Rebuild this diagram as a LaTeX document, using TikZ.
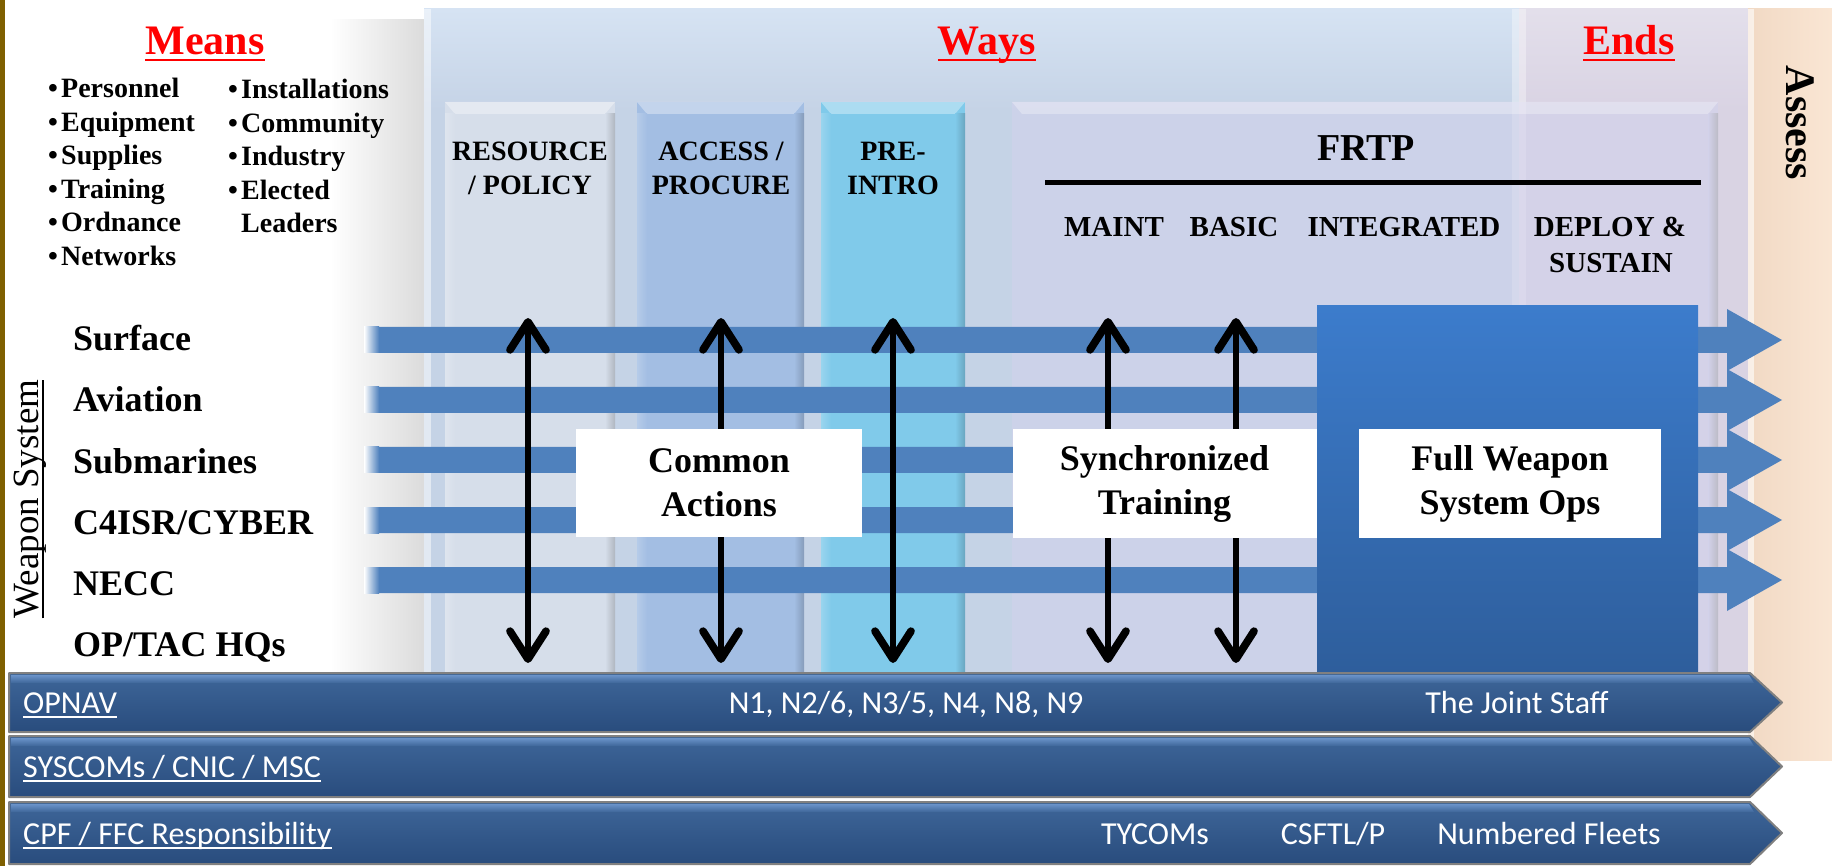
\documentclass[tikz,border=0pt]{standalone}
\usepackage{fontspec}
\setmainfont{Liberation Serif}
\newfontfamily\calib{Carlito}
\usetikzlibrary{arrows.meta}
\definecolor{waysbg}{HTML}{C5D3E6}
\definecolor{waystop}{HTML}{D6E3F3}
\definecolor{endsbg}{HTML}{D9D3E3}
\definecolor{endstop}{HTML}{E3DFEB}
\definecolor{peach}{HTML}{FAE6D4}
\definecolor{peachdark}{HTML}{F1D9C4}
\definecolor{resbg}{HTML}{D6DEEA}
\definecolor{accbg}{HTML}{A3BEE3}
\definecolor{prebg}{HTML}{80CAEA}
\definecolor{frtpbg}{HTML}{D2D2EC}
\definecolor{arrowblue}{HTML}{4F81BD}
\definecolor{opstop}{HTML}{3C7CCC}
\definecolor{opsbot}{HTML}{2E5E9C}
\definecolor{bartop}{HTML}{3E6699}
\definecolor{barbot}{HTML}{294C7D}
\definecolor{barhi}{HTML}{6A93C9}
\definecolor{goldline}{HTML}{7F6000}
\definecolor{hdred}{HTML}{FF0000}
\newcommand\fsz[1]{\fontsize{#1}{#1}\selectfont}
\newcommand\colbox[3]{%
  \fill[#3] (#1,102) rectangle (#2,672);
  \fill[white,opacity=.35] (#1,102) -- (#2,102) -- (#2-10,114) -- (#1+10,114) -- cycle;
  \shade[left color=#3, right color=#3!82!black] (#2-10,114) rectangle (#2,672);
  \shade[left color=#3!80!white, right color=#3] (#1,114) rectangle (#1+10,672);
}
\newcommand\navybar[2]{%
  \path[draw=black!50, line width=2, top color=bartop, bottom color=barbot]
     (9,#1) -- (1750,#1) -- (1782,{(#1+#2)/2}) -- (1750,#2) -- (9,#2) -- cycle;
  \shade[top color=barhi, bottom color=bartop] (11,#1+2) -- (1749,#1+2) -- (1754,#1+10) -- (11,#1+10) -- cycle;
}
\begin{document}
\begin{tikzpicture}[x=1pt,y=-1pt,line join=round,
  hd/.style={inner sep=0, anchor=base, text=hdred, font=\fsz{42}\bfseries},
  meanitem/.style={inner sep=0, anchor=base west, font=\fsz{28}\bfseries},
  collab/.style={inner sep=0, anchor=base, font=\fsz{28}\bfseries},
  frtplab/.style={inner sep=0, anchor=base, font=\fsz{29}\bfseries},
  wslab/.style={inner sep=0, anchor=base west, font=\fsz{36}\bfseries},
  bartext/.style={inner sep=0, anchor=base west, text=white, font=\calib\fsz{32}},
  barmid/.style={bartext, anchor=base},
  textbox/.style={fill=white, minimum height=108, align=center, inner sep=0,
     font={\fontsize{36}{44}\selectfont\bfseries}},
  barbtip/.tip={Straight Barb[length=28pt,width=36pt,round,line width=0pt 1.4]},
  varrow/.style={line width=5.5, barbtip-barbtip},
  hline/.style={hdred, line width=2.5},
  wline/.style={white, line width=1.8}]
\useasboundingbox (0,0) rectangle (1832,866);
\fill[white] (0,0) rectangle (1832,866);
% shadow left of Ways panel
\shade[left color=white, right color=black!14] (330,20) rectangle (424,672);
% Ways panel
\fill[waysbg] (424,9) rectangle (1519,672);
\shade[top color=waystop, bottom color=waysbg] (424,9) rectangle (1519,110);
\fill[white,opacity=.5] (424,9) rectangle (431,672);
% Ends panel
\fill[endsbg] (1519,9) rectangle (1748,672);
\shade[top color=endstop, bottom color=endsbg] (1519,9) rectangle (1748,110);
\fill[white,opacity=.35] (1512,9) rectangle (1526,672);
% Assess panel
\shade[left color=peachdark, right color=peach] (1748,9) rectangle (1832,760);
\fill[white,opacity=.6] (1748,9) rectangle (1754,760);
% columns
\colbox{445}{615}{resbg}
\colbox{637}{804}{accbg}
\colbox{821}{965}{prebg}
\fill[frtpbg,opacity=.6] (1012,102) rectangle (1718,672);
\fill[white,opacity=.3] (1012,102) -- (1718,102) -- (1708,114) -- (1022,114) -- cycle;
\shade[left color=frtpbg, right color=black!35, opacity=.5] (1708,114) rectangle (1718,672);
% headings
\node[hd] (means) at (205,55) {Means};
\node[hd] (ways) at (987,55) {Ways};
\node[hd] (ends) at (1629,55) {Ends};
\foreach \h in {means,ways,ends}
  \draw[hline] ([yshift=-5pt]\h.base west) -- ([yshift=-5pt]\h.base east);
\node[inner sep=0, anchor=base, rotate=-90, font=\fsz{42}\bfseries] (assess) at (1786,123) {Assess};
% means list
\node[meanitem] (m1) at (48,98) {\makebox[13pt][l]{•}Personnel};
\node[meanitem] (m2) at (48,132) {\makebox[13pt][l]{•}Equipment};
\node[meanitem] (m3) at (48,165) {\makebox[13pt][l]{•}Supplies};
\node[meanitem] (m4) at (48,199) {\makebox[13pt][l]{•}Training};
\node[meanitem] (m5) at (48,232) {\makebox[13pt][l]{•}Ordnance};
\node[meanitem] (m6) at (48,266) {\makebox[13pt][l]{•}Networks};
\node[meanitem] (m7) at (228,99) {\makebox[13pt][l]{•}Installations};
\node[meanitem] (m8) at (228,133) {\makebox[13pt][l]{•}Community};
\node[meanitem] (m9) at (228,166) {\makebox[13pt][l]{•}Industry};
\node[meanitem] (m10) at (228,200) {\makebox[13pt][l]{•}Elected};
\node[meanitem] (m11) at (241,233) {Leaders};
% column labels
\node[collab] (rp1) at (530,161) {RESOURCE};
\node[collab] (rp2) at (530,195) {/ POLICY};
\node[collab] (ap1) at (721,161) {ACCESS /};
\node[collab] (ap2) at (721,195) {PROCURE};
\node[collab] (pi1) at (893,161) {PRE-};
\node[collab] (pi2) at (893,195) {INTRO};
\node[inner sep=0, anchor=base, font=\fsz{38}\bfseries] (frtp) at (1366,161) {FRTP};
\coordinate (fl1) at (1045,183);
\coordinate (fl2) at (1701,183);
\draw[line width=5] (fl1) -- (fl2);
\node[frtplab] (maint) at (1114,237) {MAINT};
\node[frtplab] (basic) at (1234,237) {BASIC};
\node[frtplab] (integ) at (1404,237) {INTEGRATED};
\node[frtplab] (dep1) at (1610,237) {DEPLOY \&};
\node[frtplab] (dep2) at (1611,273) {SUSTAIN};
% horizontal arrows
\foreach \yy in {340,400,460,520,580}{
  \fill[arrowblue] (378,\yy-13) -- (1727,\yy-13) -- (1727,\yy-31) -- (1782,\yy)
      -- (1727,\yy+31) -- (1727,\yy+13) -- (378,\yy+13) -- cycle;
  \shade[left color=white, right color=arrowblue] (364,\yy-13) rectangle (379,\yy+13);
}
% full weapon system block
\shade[top color=opstop, bottom color=opsbot] (1317,306) rectangle (1698,672);
% vertical arrows
\foreach \n/\xx in {1/528,2/721,3/893,4/1108,5/1236}{
  \coordinate (vt\n) at (\xx,318);
  \coordinate (vb\n) at (\xx,663);
  \draw[varrow] (vt\n) -- (vb\n);
}
% text boxes
\node[textbox, minimum width=286] (common) at (719,483) {Common\\Actions};
\node[textbox, minimum width=304] (sync) at (1164.5,483.5) {Synchronized\\Training};
\node[textbox, minimum width=302] (fullops) at (1510,483.5) {Full Weapon\\System Ops};
% weapon system labels
\node[wslab] (w1) at (73,351) {Surface};
\node[wslab] (w2) at (73,412) {Aviation};
\node[wslab] (w3) at (73,473) {Submarines};
\node[wslab] (w4) at (73,534) {C4ISR/CYBER};
\node[wslab] (w5) at (73,595) {NECC};
\node[wslab] (w6) at (73,656) {OP/TAC HQs};
\node[inner sep=0, anchor=base, rotate=90, font=\fsz{37}] (wsys) at (38,499) {Weapon System};
\draw[line width=1.5] ([xshift=5pt]wsys.base west) -- ([xshift=5pt]wsys.base east);
% bottom bars
\navybar{673}{732}
\navybar{736}{797}
\navybar{802}{864}
\node[bartext] (opnav) at (23,713) {OPNAV};
\node[barmid] (nlist) at (906,713) {N1, N2/6, N3/5, N4, N8, N9};
\node[barmid] (joint) at (1517,713) {The Joint Staff};
\node[bartext] (syscom) at (23,777) {SYSCOMs / CNIC / MSC};
\node[bartext] (cpf) at (23,844) {CPF / FFC Responsibility};
\node[barmid] (tycom) at (1155,844) {TYCOMs};
\node[barmid] (csftl) at (1333,844) {CSFTL/P};
\node[barmid] (numfl) at (1549,844) {Numbered Fleets};
\foreach \b in {opnav,syscom,cpf}
  \draw[wline] ([yshift=-4pt]\b.base west) -- ([yshift=-4pt]\b.base east);
% gold left border
\fill[goldline] (0,0) rectangle (5,866);
\end{tikzpicture}
\end{document}
